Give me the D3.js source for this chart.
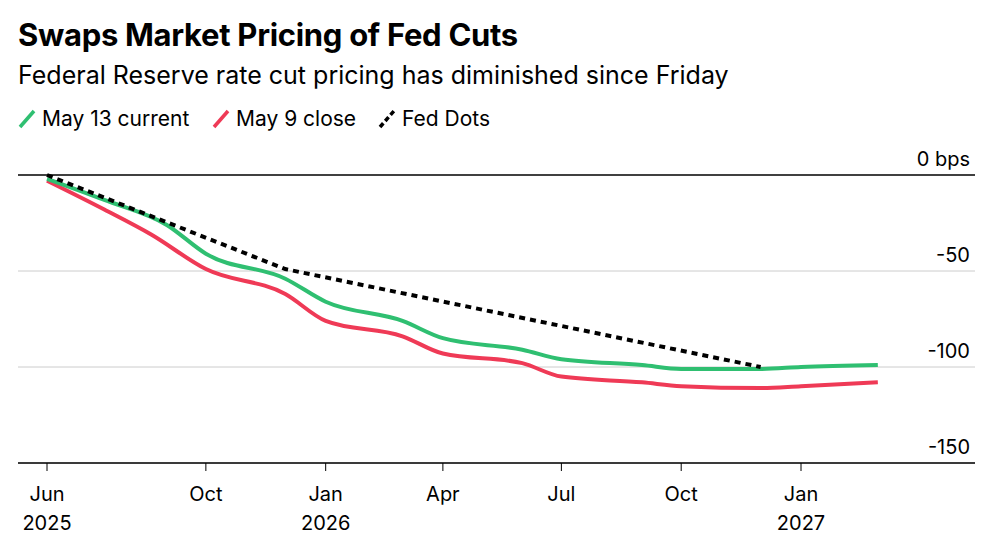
<!DOCTYPE html>
<html><head><meta charset="utf-8">
<script src="https://cdn.jsdelivr.net/npm/d3@7"></script>
<style>body{margin:0;background:#fff;font-family:Inter,"Liberation Sans",sans-serif}</style>
</head><body><svg id="c" width="1000" height="545"></svg>
<script>
var currentPts = [["2025-06-01",-2],["2025-07-15",-13],["2025-09-01",-26],["2025-10-01",-41],["2025-12-01",-54],["2026-01-01",-66],["2026-03-01",-76],["2026-04-01",-85],["2026-06-01",-91],["2026-07-01",-96],["2026-09-01",-99],["2026-10-01",-101],["2026-12-01",-101],["2027-01-01",-100],["2027-03-01",-99]];
var closePts = [["2025-06-01",-3],["2025-07-15",-18],["2025-08-20",-31],["2025-10-01",-49],["2025-12-01",-62],["2026-01-01",-76],["2026-03-01",-84],["2026-04-01",-93],["2026-06-01",-98],["2026-07-01",-105],["2026-09-01",-108],["2026-10-01",-110],["2026-12-01",-111],["2027-01-01",-110],["2027-03-01",-108]];
var dotPts = [["2025-06-01",0],["2025-12-01",-49],["2026-12-01",-100]];
var yTicks = [0,-50,-100,-150];
var xTicks = [["2025-06-01","Jun","2025"],["2025-10-01","Oct",""],["2026-01-01","Jan","2026"],["2026-04-01","Apr",""],["2026-07-01","Jul",""],["2026-10-01","Oct",""],["2027-01-01","Jan","2027"]];

var p = d3.timeParse("%Y-%m-%d");
var svg = d3.select("#c");
var x = d3.scaleTime().domain([p("2025-06-01"), p("2027-01-01")]).range([47, 801]);
var y = d3.scaleLinear().domain([0,-150]).range([175,463]);

svg.append("text").attr("x",18).attr("y",46).attr("font-size",31).attr("font-weight",700).attr("letter-spacing",-0.3).text("Swaps Market Pricing of Fed Cuts");
svg.append("text").attr("x",18).attr("y",84).attr("font-size",25).text("Federal Reserve rate cut pricing has diminished since Friday");

var leg = [["May 13 current","#2fbf71",false,20],["May 9 close","#ef3a56",false,214],["Fed Dots","#000",true,380]];
leg.forEach(function(l){
  svg.append("line").attr("x1",l[3]).attr("y1",127).attr("x2",l[3]+14).attr("y2",111)
    .attr("stroke",l[1]).attr("stroke-width",3.5).attr("stroke-dasharray",l[2]?"5,3":null);
  svg.append("text").attr("x",l[3]+22).attr("y",126).attr("font-size",21).text(l[0]);
});

yTicks.forEach(function(t){
  svg.append("line").attr("x1",18).attr("x2",975).attr("y1",y(t)).attr("y2",y(t))
    .attr("stroke",t===0?"#000":"#ccc").attr("stroke-width",t===0?1.5:1);
  svg.append("text").attr("x",970).attr("y",y(t)-9).attr("text-anchor","end").attr("font-size",20)
    .text(t===0?"0 bps":t);
});
svg.append("line").attr("x1",18).attr("x2",975).attr("y1",463).attr("y2",463).attr("stroke","#000").attr("stroke-width",1.5);

xTicks.forEach(function(t){
  var xx = x(p(t[0]));
  svg.append("line").attr("x1",xx).attr("x2",xx).attr("y1",463).attr("y2",471).attr("stroke","#000");
  svg.append("text").attr("x",xx).attr("y",501).attr("text-anchor","middle").attr("font-size",20).text(t[1]);
  if(t[2]) svg.append("text").attr("x",xx).attr("y",530).attr("text-anchor","middle").attr("font-size",20).text(t[2]);
});

var line = d3.line().x(function(d){return x(p(d[0]));}).y(function(d){return y(d[1]);}).curve(d3.curveMonotoneX);
svg.append("path").datum(closePts).attr("d",line).attr("fill","none").attr("stroke","#ef3a56").attr("stroke-width",4);
svg.append("path").datum(currentPts).attr("d",line).attr("fill","none").attr("stroke","#2fbf71").attr("stroke-width",4);
svg.append("path").datum(dotPts).attr("d",line.curve(d3.curveLinear)).attr("fill","none").attr("stroke","#000").attr("stroke-width",4).attr("stroke-dasharray","6,5");
</script></body></html>
